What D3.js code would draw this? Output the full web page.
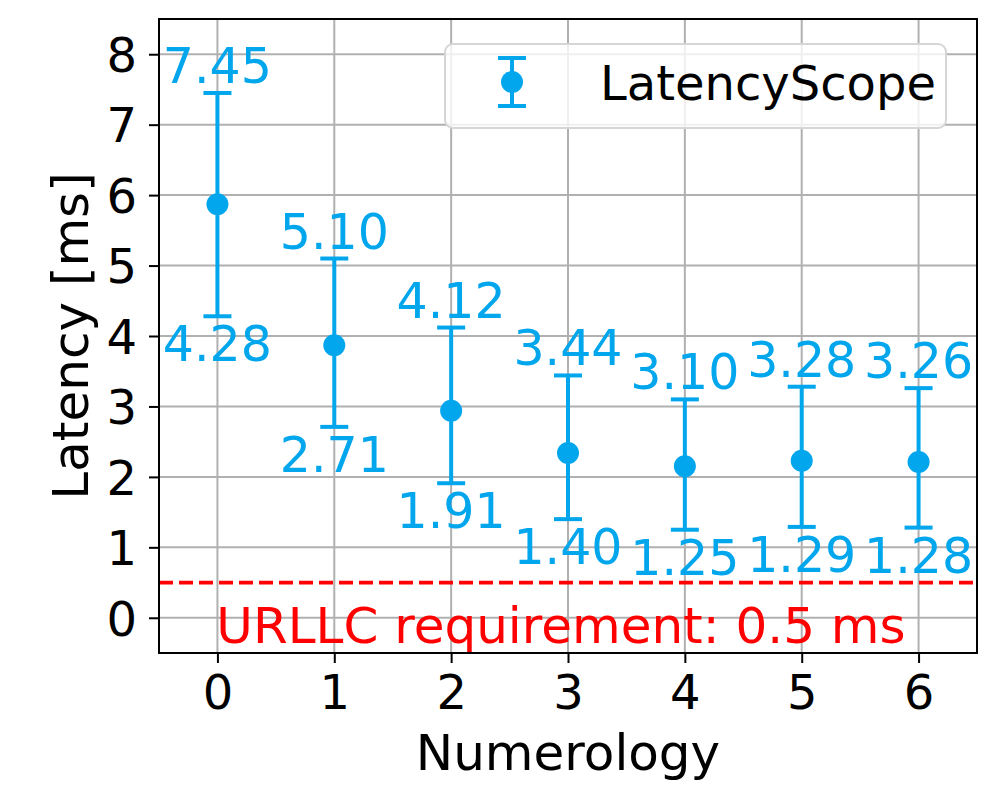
<!DOCTYPE html>
<html>
<head>
<meta charset="utf-8">
<script src="https://cdn.jsdelivr.net/npm/d3@7"></script>
<style>
  body { margin: 0; background: #fff; }
  text { font-family: "DejaVu Sans", sans-serif; }
</style>
</head>
<body>
<svg id="chart"></svg>
<script>
  // data
  var numerology = [0, 1, 2, 3, 4, 5, 6];
  var meanLatency = [5.87, 3.87, 2.94, 2.34, 2.15, 2.23, 2.21];
  var upperLatency = [7.45, 5.10, 4.12, 3.44, 3.10, 3.28, 3.26];
  var lowerLatency = [4.28, 2.71, 1.91, 1.40, 1.25, 1.29, 1.28];
  var yTicks = [0, 1, 2, 3, 4, 5, 6, 7, 8];
  var requirement = 0.5;
  var seriesName = 'LatencyScope';
  var requirementLabel = 'URLLC requirement: 0.5 ms';

  var width = 997;
  var height = 797;
  var margin = { top: 19, right: 20, bottom: 144, left: 159 };
  var blue = '#02a6ec';
  var fontSize = 48;

  var svg = d3.select('#chart')
      .attr('width', width)
      .attr('height', height);

  svg.append('rect')
      .attr('width', width)
      .attr('height', height)
      .attr('fill', '#fff');

  var x = d3.scaleLinear()
      .domain([-0.5, 6.5])
      .range([margin.left, width - margin.right]);

  var y = d3.scaleLinear()
      .domain([-0.5, 8.5])
      .range([height - margin.bottom, margin.top]);

  var data = numerology.map(function (n, i) {
      return { n: n, mean: meanLatency[i], hi: upperLatency[i], lo: lowerLatency[i] };
  });

  // grid
  var grid = svg.append('g').attr('stroke', '#b0b0b0').attr('stroke-width', 2);
  grid.selectAll('.gx')
      .data(numerology)
      .enter().append('line')
      .attr('x1', function (d) { return x(d); })
      .attr('x2', function (d) { return x(d); })
      .attr('y1', y.range()[0])
      .attr('y2', y.range()[1]);
  grid.selectAll('.gy')
      .data(yTicks)
      .enter().append('line')
      .attr('y1', function (d) { return y(d); })
      .attr('y2', function (d) { return y(d); })
      .attr('x1', x.range()[0])
      .attr('x2', x.range()[1]);

  // axes
  var xAxis = svg.append('g')
      .attr('transform', 'translate(0,' + (height - margin.bottom) + ')')
      .call(d3.axisBottom(x).tickValues(numerology).tickSize(10).tickPadding(12).tickFormat(d3.format('d')));

  var yAxis = svg.append('g')
      .attr('transform', 'translate(' + margin.left + ',0)')
      .call(d3.axisLeft(y).tickValues(yTicks).tickSize(10).tickPadding(12).tickFormat(d3.format('d')));

  [xAxis, yAxis].forEach(function (ax) {
      ax.select('.domain').remove();
      ax.selectAll('line').attr('stroke', '#000').attr('stroke-width', 2);
      ax.selectAll('text')
          .attr('fill', '#000')
          .style('font-size', fontSize + 'px')
          .style('font-family', '"DejaVu Sans", sans-serif');
  });
  xAxis.selectAll('text').attr('dy', '0.71em');
  yAxis.selectAll('text').attr('dy', '0.36em');

  // requirement line
  svg.append('line')
      .attr('x1', x.range()[0])
      .attr('x2', x.range()[1])
      .attr('y1', y(requirement))
      .attr('y2', y(requirement))
      .attr('stroke', '#ff0000')
      .attr('stroke-width', 3.8)
      .attr('stroke-dasharray', '14,6');

  svg.append('text')
      .attr('x', 561)
      .attr('y', 643)
      .attr('text-anchor', 'middle')
      .attr('fill', '#ff0000')
      .style('font-size', '50px')
      .text(requirementLabel);

  // error bars
  var capHalf = 14;
  var bars = svg.append('g').attr('stroke', blue).attr('stroke-width', 4);
  bars.selectAll('.stem')
      .data(data)
      .enter().append('line')
      .attr('x1', function (d) { return x(d.n); })
      .attr('x2', function (d) { return x(d.n); })
      .attr('y1', function (d) { return y(d.hi); })
      .attr('y2', function (d) { return y(d.lo); });
  bars.selectAll('.capHi')
      .data(data)
      .enter().append('line')
      .attr('x1', function (d) { return x(d.n) - capHalf; })
      .attr('x2', function (d) { return x(d.n) + capHalf; })
      .attr('y1', function (d) { return y(d.hi); })
      .attr('y2', function (d) { return y(d.hi); });
  bars.selectAll('.capLo')
      .data(data)
      .enter().append('line')
      .attr('x1', function (d) { return x(d.n) - capHalf; })
      .attr('x2', function (d) { return x(d.n) + capHalf; })
      .attr('y1', function (d) { return y(d.lo); })
      .attr('y2', function (d) { return y(d.lo); });

  svg.selectAll('.dot')
      .data(data)
      .enter().append('circle')
      .attr('cx', function (d) { return x(d.n); })
      .attr('cy', function (d) { return y(d.mean); })
      .attr('r', 11)
      .attr('fill', blue);

  // value labels
  svg.selectAll('.lblHi')
      .data(data)
      .enter().append('text')
      .attr('x', function (d) { return x(d.n); })
      .attr('y', function (d) { return y(d.hi) - 10; })
      .attr('text-anchor', 'middle')
      .attr('fill', blue)
      .style('font-size', '49px')
      .text(function (d) { return d.hi.toFixed(2); });

  svg.selectAll('.lblLo')
      .data(data)
      .enter().append('text')
      .attr('x', function (d) { return x(d.n); })
      .attr('y', function (d) { return y(d.lo) + 45; })
      .attr('text-anchor', 'middle')
      .attr('fill', blue)
      .style('font-size', '49px')
      .text(function (d) { return d.lo.toFixed(2); });

  // frame
  svg.append('rect')
      .attr('x', x.range()[0])
      .attr('y', y.range()[1])
      .attr('width', x.range()[1] - x.range()[0])
      .attr('height', y.range()[0] - y.range()[1])
      .attr('fill', 'none')
      .attr('stroke', '#000')
      .attr('stroke-width', 2);

  // axis titles
  svg.append('text')
      .attr('x', (x.range()[0] + x.range()[1]) / 2)
      .attr('y', 770)
      .attr('text-anchor', 'middle')
      .style('font-size', '50px')
      .text('Numerology');

  svg.append('text')
      .attr('transform', 'translate(88,' + (y.range()[0] + y.range()[1]) / 2 + ') rotate(-90)')
      .attr('text-anchor', 'middle')
      .style('font-size', '50px')
      .text('Latency [ms]');

  // legend
  var legend = svg.append('g');
  legend.append('rect')
      .attr('x', 445)
      .attr('y', 44)
      .attr('width', 501)
      .attr('height', 84)
      .attr('rx', 8)
      .attr('fill', 'rgba(255,255,255,0.8)')
      .attr('stroke', '#d6d6d6')
      .attr('stroke-width', 2);
  var lx = 512;
  var lg = legend.append('g').attr('stroke', blue).attr('stroke-width', 4);
  lg.append('line').attr('x1', lx).attr('x2', lx).attr('y1', 58).attr('y2', 106);
  lg.append('line').attr('x1', lx - capHalf).attr('x2', lx + capHalf).attr('y1', 58).attr('y2', 58);
  lg.append('line').attr('x1', lx - capHalf).attr('x2', lx + capHalf).attr('y1', 106).attr('y2', 106);
  legend.append('circle').attr('cx', lx).attr('cy', 82).attr('r', 11).attr('fill', blue);
  legend.append('text')
      .attr('x', 600)
      .attr('y', 100)
      .style('font-size', fontSize + 'px')
      .text(seriesName);
</script>
</body>
</html>
